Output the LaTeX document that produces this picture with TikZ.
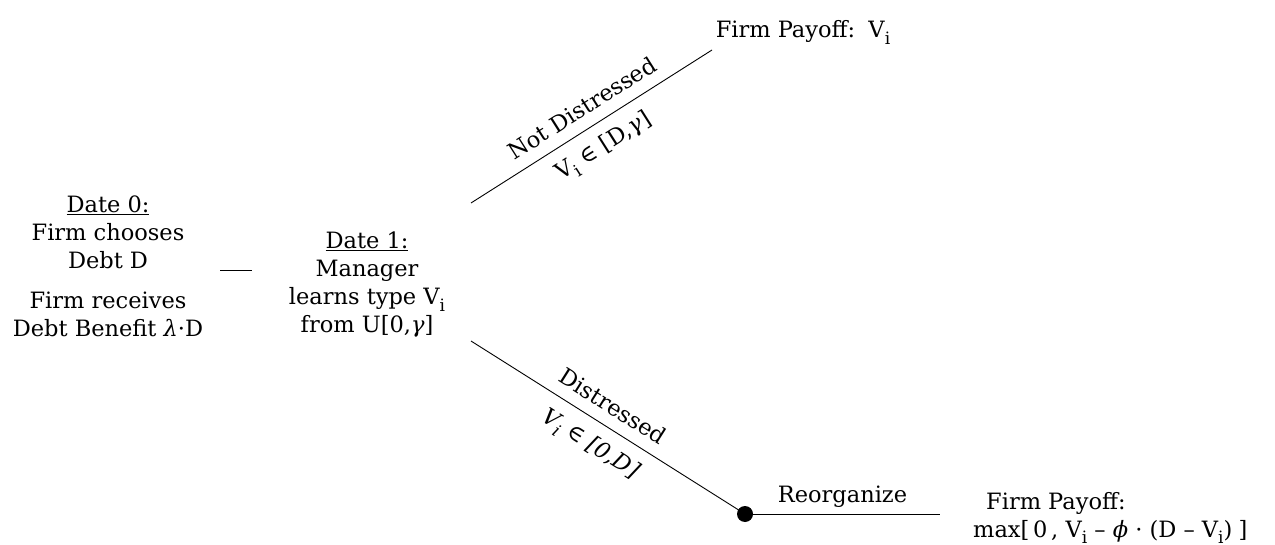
\documentclass[tikz,border=0pt]{standalone}
\usepackage{fontspec}
\setmainfont{DejaVu Serif}
\newcommand\lowsub[1]{\raisebox{-0.28em}{\fontsize{17}{17}\selectfont #1}}
\newcommand\gr[1]{\textit{#1}}
\begin{document}
\begin{tikzpicture}[x=1pt,y=-1pt,
  txt/.style={font=\fontsize{22.5}{28}\selectfont, align=center, inner sep=0pt},
  conn/.style={draw=black, line width=0.9pt},
  lab/.style={font=\fontsize{22.5}{24}\selectfont, inner sep=0pt}]
\useasboundingbox (0,0) rectangle (1275,545);
% text blocks
\node[txt] (d0a) at (108,232) {\underline{Date 0:}\\Firm chooses\\Debt D};
\node[txt] (d0b) at (108,314) {Firm receives\\Debt Benefit \gr{λ}·D};
\node[txt] (d1) at (367,285) {\underline{Date 1:}\\Manager\\learns type V\lowsub{i}\\from U[0,\gr{γ}]};
\node[txt, anchor=base] (pay1) at (803,38) {Firm Payoff:\, V\lowsub{i}};
\node[txt, anchor=base west] (pay2a) at (986,509) {Firm Payoff:};
\node[txt, anchor=base west] (pay2b) at (973,537) {max[\,0\,, V\lowsub{i} – \gr{ϕ} · (D – V\lowsub{i})\;]};
% connector points
\coordinate (s0) at (220,270);
\coordinate (s1) at (252,270);
\coordinate (u0) at (471,203);
\coordinate (u1) at (712,50);
\coordinate (l0) at (471,341);
\node[circle, fill=black, inner sep=0pt, minimum size=16pt] (dot) at (745,514) {};
\coordinate (r1) at (940,514);
% connectors
\draw[conn] (s0) -- (s1);
\draw[conn] (u0) -- (u1);
\draw[conn] (l0) -- (dot.center);
\draw[conn] (dot.center) -- (r1) node[midway, above, font=\fontsize{22.5}{24}\selectfont, inner sep=6pt] (reo) {Reorganize};
% branch labels
\node[lab, rotate=32.4] (nd) at (582,108) {Not Distressed};
\node[lab, rotate=32.4] (nv) at (604,147) {V\lowsub{i} ∈ [D,\gr{γ}]};
\node[lab, rotate=-32.3] (ds) at (613,406) {Distressed};
\node[lab, rotate=-32.3] (dv) at (590,445) {\gr{V\lowsub{i} ∈ [0,D]}};
\end{tikzpicture}
\end{document}
